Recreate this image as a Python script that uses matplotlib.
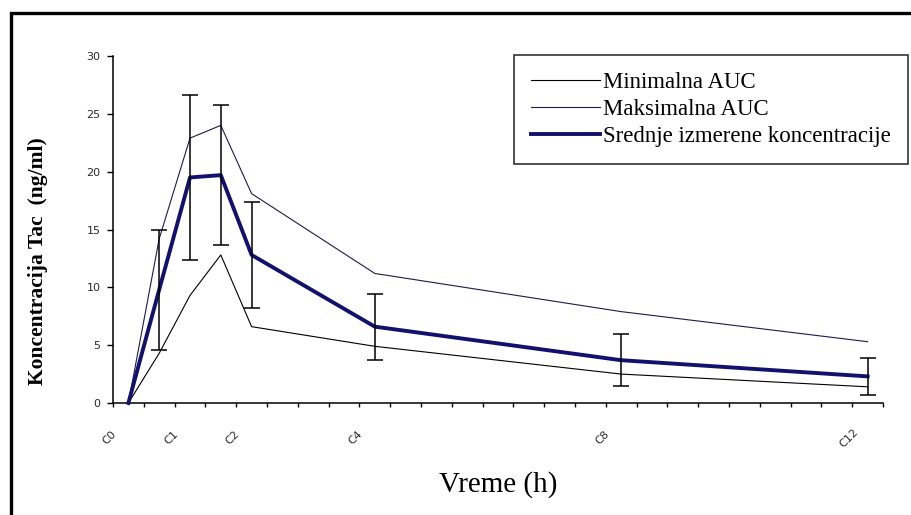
import numpy as np
import matplotlib
matplotlib.use("Agg")
import matplotlib.pyplot as plt
from matplotlib.transforms import ScaledTranslation
from matplotlib.patches import Rectangle

# time points (h) and concentrations (ng/ml)
hours = [0, 0.5, 1, 1.5, 2, 4, 8, 12]
min_auc = [0, 4.3, 9.3, 12.8, 6.6, 4.9, 2.5, 1.4]
max_auc = [0, 14.2, 22.9, 24.0, 18.1, 11.2, 7.9, 5.3]
mean_conc = [0, 9.8, 19.5, 19.7, 12.8, 6.6, 3.7, 2.3]
sd_conc = [0, 5.2, 7.15, 6.05, 4.55, 2.85, 2.25, 1.6]

tick_hours = [0, 1, 2, 4, 8, 12]
tick_names = ["C0", "C1", "C2", "C4", "C8", "C12"]

navy = "#12126e"

fig = plt.figure(figsize=(9.12, 5.15), dpi=100)
ax = fig.add_axes([113 / 912, 1 - 403 / 515, (883 - 113) / 912, (403 - 56) / 515])

ax.plot(hours, min_auc, color="black", lw=0.8, label="Minimalna AUC", clip_on=False)
ax.plot(hours, max_auc, color="#1c1c4a", lw=0.8, label="Maksimalna AUC", clip_on=False)
ax.plot(hours, mean_conc, color=navy, lw=2.8, label="Srednje izmerene koncentracije",
        clip_on=False, zorder=3)
ax.errorbar(hours[1:], mean_conc[1:], yerr=sd_conc[1:], fmt="none", ecolor="black",
            elinewidth=1.1, capsize=6, capthick=1.1, zorder=4)

ax.set_xlim(-0.25, 12.25)
ax.set_ylim(0, 30)
ax.set_yticks(np.arange(0, 31, 5))
ax.set_xticks(np.arange(-0.25, 12.26, 0.5), minor=True)
ax.set_xticks(tick_hours, tick_names)
ax.tick_params(axis="x", which="major", length=0, pad=25, labelsize=8, labelcolor="#2a2a2a")
ax.tick_params(axis="x", which="minor", length=3, width=1, direction="out")
ax.tick_params(axis="y", length=4, width=1, labelsize=8, labelcolor="#2a2a2a", pad=5)

shift = ScaledTranslation(-19 / 100, 0, fig.dpi_scale_trans)
for lab in ax.get_xticklabels():
    lab.set_rotation(45)
    lab.set_ha("center")
    lab.set_va("center")
    lab.set_transform(lab.get_transform() + shift)

for s in ["top", "right"]:
    ax.spines[s].set_visible(False)
for s in ["left", "bottom"]:
    ax.spines[s].set_linewidth(1.1)

ax.set_ylabel("Koncentracija Tac  (ng/ml)", family="Liberation Serif", fontweight="bold",
              fontsize=15.5)
ax.yaxis.set_label_coords(-0.085, 0.41)
ax.set_xlabel("Vreme (h)", family="Liberation Serif", fontsize=21, va="center")
ax.xaxis.set_label_coords(0.5, -0.236)

leg = ax.legend(loc="upper right", bbox_to_anchor=(908 / 912, 1 - 55 / 515),
                bbox_transform=fig.transFigure, borderaxespad=0,
                prop={"family": "Liberation Serif", "size": 16.5},
                handlelength=3.0, handletextpad=0.15, labelspacing=0.25,
                borderpad=0.75, fancybox=False, framealpha=1)
leg.get_frame().set_edgecolor("#333333")
leg.get_frame().set_linewidth(1.2)

# outer border of the picture (left and top only visible)
fig.add_artist(Rectangle((11 / 912, -0.2), 1.2, 1.2 - 13 / 515, transform=fig.transFigure,
                         fill=False, edgecolor="black", lw=2.4, clip_on=False))

fig.savefig("out.png", dpi=100)
